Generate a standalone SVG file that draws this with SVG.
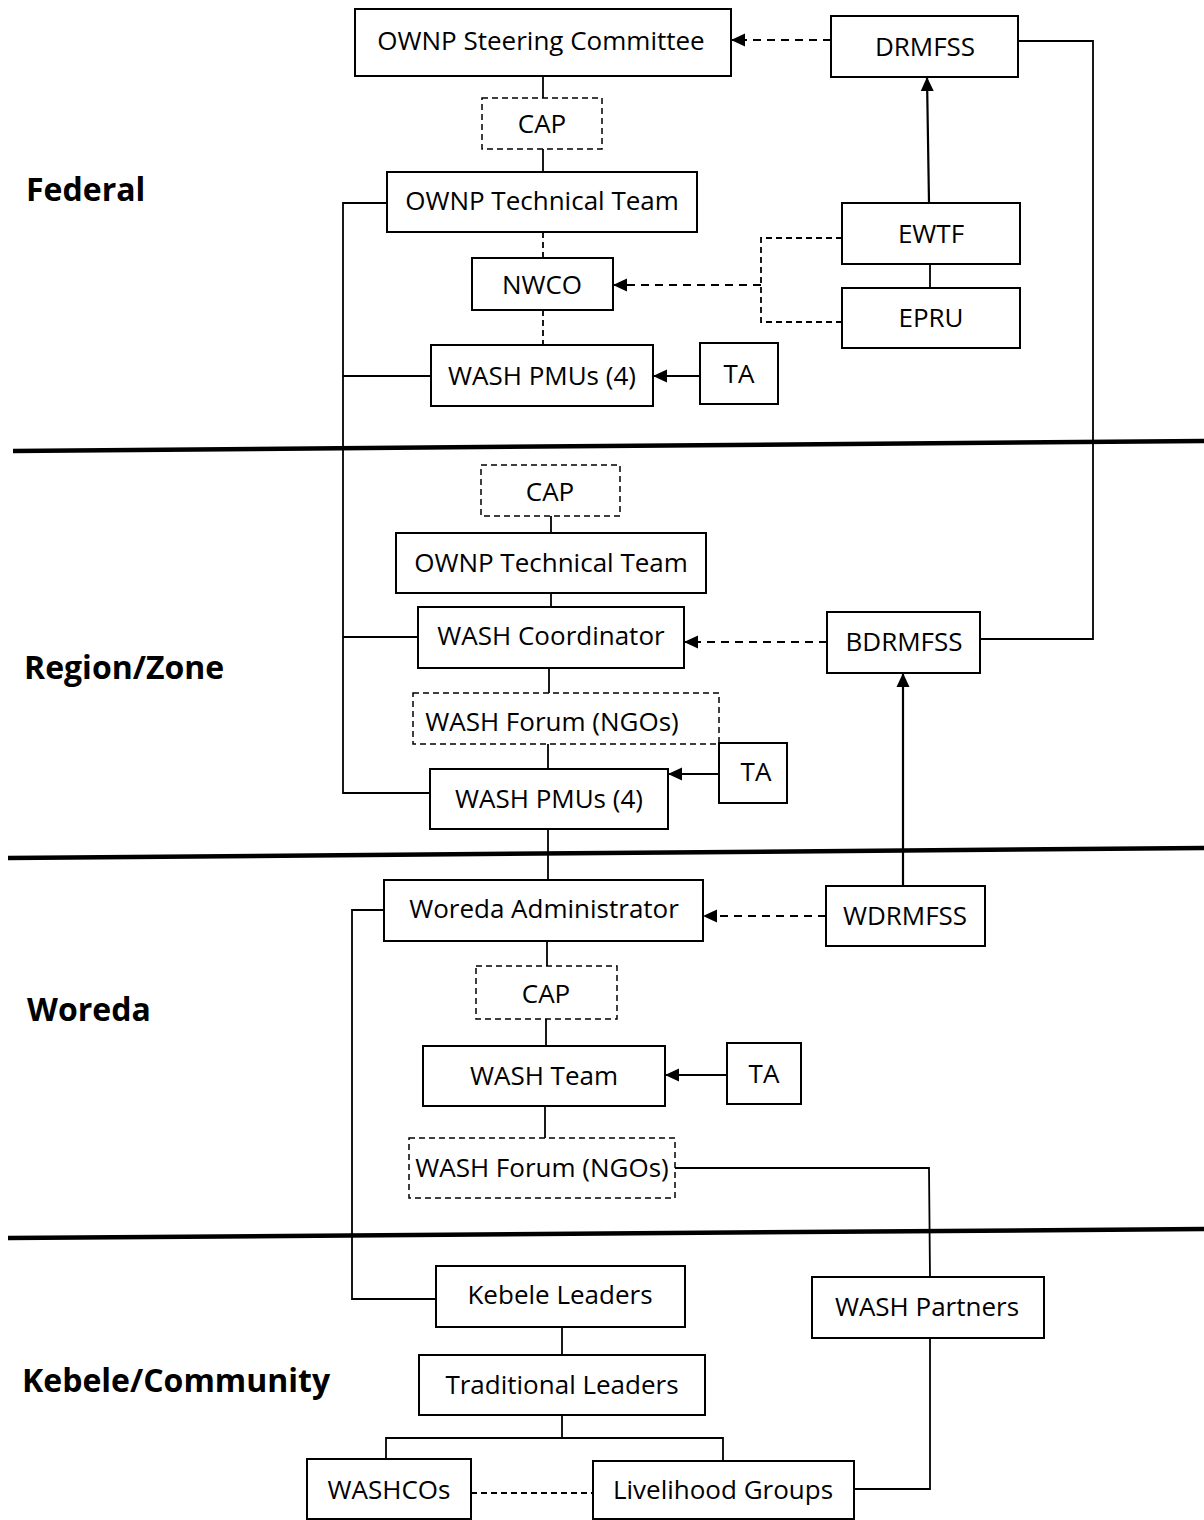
<svg xmlns="http://www.w3.org/2000/svg" width="1204" height="1520" viewBox="0 0 1204 1520">
<style>
rect{fill:#fff;stroke:#000;stroke-width:2}
rect.d{stroke-dasharray:6,4;stroke-width:1.5}
text{font-family:"Open Sans","Liberation Sans",sans-serif;font-size:26px;fill:#000;text-anchor:middle}
text.lvl{font-weight:bold;font-size:32px;text-anchor:start}
.c line,.c polyline{fill:none;stroke:#000;stroke-width:1.8}
.c .dash{stroke-dasharray:6,4}
.c .dash2{stroke-dasharray:8,6;stroke-width:2.2}
.sep line{stroke:#000;stroke-width:4.5}
</style>
<defs>
<marker id="ah" markerWidth="14" markerHeight="14" refX="14" refY="7" orient="auto" markerUnits="userSpaceOnUse"><path d="M0,0.5 L14,7 L0,13.5 z" fill="#000"/></marker>
</defs>
<rect x="0" y="0" width="1204" height="1520" style="fill:#fff;stroke:none"/>
<g class="sep">
<line x1="13" y1="451" x2="1204" y2="441"/>
<line x1="8" y1="858" x2="1204" y2="848"/>
<line x1="8" y1="1238" x2="1204" y2="1229"/>
</g>
<g id="labels">
<text class="lvl" x="26" y="201">Federal</text>
<text class="lvl" x="24" y="679">Region/Zone</text>
<text class="lvl" x="27" y="1021">Woreda</text>
<text class="lvl" x="22" y="1392">Kebele/Community</text>
</g>
<g class="c" id="connectors">
<line x1="543" y1="76" x2="543" y2="98"/>
<line x1="543" y1="149" x2="543" y2="172"/>
<line class="dash" x1="543" y1="232" x2="543" y2="258"/>
<line class="dash" x1="543" y1="310" x2="543" y2="345"/>
<polyline points="387,203 343,203 343,793 430,793"/>
<line x1="343" y1="376" x2="431" y2="376"/>
<line x1="343" y1="637" x2="418" y2="637"/>
<line x1="700" y1="376" x2="653" y2="376" marker-end="url(#ah)" style="stroke-width:2.2"/>
<line class="dash2" x1="831" y1="40" x2="731" y2="40" marker-end="url(#ah)"/>
<line x1="929" y1="203" x2="927" y2="77" marker-end="url(#ah)" style="stroke-width:2.2"/>
<line x1="930" y1="264" x2="930" y2="288"/>
<polyline class="dash" points="842,238 761,238 761,322 842,322"/>
<line class="dash2" x1="761" y1="285" x2="613" y2="285" marker-end="url(#ah)"/>
<polyline points="1018,41 1093,41 1093,639 980,639"/>
<line x1="551" y1="516" x2="551" y2="533"/>
<line x1="551" y1="593" x2="551" y2="607"/>
<line x1="549" y1="668" x2="549" y2="693"/>
<line x1="548" y1="744" x2="548" y2="769"/>
<line x1="719" y1="774" x2="668" y2="774" marker-end="url(#ah)" style="stroke-width:2.2"/>
<line class="dash2" x1="827" y1="642" x2="684" y2="642" marker-end="url(#ah)"/>
<line x1="903" y1="886" x2="903" y2="673" marker-end="url(#ah)" style="stroke-width:2.2"/>
<line x1="548" y1="829" x2="548" y2="880"/>
<line class="dash2" x1="826" y1="916" x2="703" y2="916" marker-end="url(#ah)"/>
<polyline points="384,910 352,910 352,1299 436,1299"/>
<line x1="547" y1="941" x2="547" y2="966"/>
<line x1="546" y1="1019" x2="546" y2="1046"/>
<line x1="727" y1="1075" x2="665" y2="1075" marker-end="url(#ah)" style="stroke-width:2.2"/>
<line x1="545" y1="1106" x2="545" y2="1138"/>
<polyline points="675,1168 929,1168 930,1277"/>
<polyline points="930,1338 930,1489 854,1489"/>
<line x1="562" y1="1327" x2="562" y2="1355"/>
<line x1="562" y1="1415" x2="562" y2="1438"/>
<polyline points="386,1459 386,1438 723,1438 723,1461"/>
<line class="dash" x1="471" y1="1493" x2="593" y2="1493"/>
</g>
<g id="steering"><rect x="355" y="9" width="376" height="67"/><text x="541" y="50">OWNP Steering Committee</text></g>
<g id="cap1"><rect class="d" x="482" y="98" width="120" height="51"/><text x="542" y="133">CAP</text></g>
<g id="ott1"><rect x="387" y="172" width="310" height="60"/><text x="542" y="210">OWNP Technical Team</text></g>
<g id="nwco"><rect x="472" y="258" width="141" height="52"/><text x="542" y="294">NWCO</text></g>
<g id="pmu1"><rect x="431" y="345" width="222" height="61"/><text x="542" y="385">WASH PMUs (4)</text></g>
<g id="ta1"><rect x="700" y="343" width="78" height="61"/><text x="739" y="383">TA</text></g>
<g id="drmfss"><rect x="831" y="16" width="187" height="61"/><text x="925" y="56">DRMFSS</text></g>
<g id="ewtf"><rect x="842" y="203" width="178" height="61"/><text x="931" y="243">EWTF</text></g>
<g id="epru"><rect x="842" y="288" width="178" height="60"/><text x="931" y="327">EPRU</text></g>
<g id="cap2"><rect class="d" x="481" y="465" width="139" height="51"/><text x="550" y="501">CAP</text></g>
<g id="ott2"><rect x="396" y="533" width="310" height="60"/><text x="551" y="572">OWNP Technical Team</text></g>
<g id="coord"><rect x="418" y="607" width="266" height="61"/><text x="551" y="645">WASH Coordinator</text></g>
<g id="forum2"><rect class="d" x="413" y="693" width="306" height="51"/><text x="552" y="731">WASH Forum (NGOs)</text></g>
<g id="pmu2"><rect x="430" y="769" width="238" height="60"/><text x="549" y="808">WASH PMUs (4)</text></g>
<g id="ta2"><rect x="719" y="743" width="68" height="60"/><text x="756" y="781">TA</text></g>
<g id="bdrmfss"><rect x="827" y="612" width="153" height="61"/><text x="904" y="651">BDRMFSS</text></g>
<g id="woreda"><rect x="384" y="880" width="319" height="61"/><text x="544" y="918">Woreda Administrator</text></g>
<g id="wdrmfss"><rect x="826" y="886" width="159" height="60"/><text x="905" y="925">WDRMFSS</text></g>
<g id="cap3"><rect class="d" x="476" y="966" width="141" height="53"/><text x="546" y="1003">CAP</text></g>
<g id="washteam"><rect x="423" y="1046" width="242" height="60"/><text x="544" y="1085">WASH Team</text></g>
<g id="ta3"><rect x="727" y="1043" width="74" height="61"/><text x="764" y="1083">TA</text></g>
<g id="forum3"><rect class="d" x="409" y="1138" width="266" height="60"/><text x="542" y="1177">WASH Forum (NGOs)</text></g>
<g id="kebele"><rect x="436" y="1266" width="249" height="61"/><text x="560" y="1304">Kebele Leaders</text></g>
<g id="trad"><rect x="419" y="1355" width="286" height="60"/><text x="562" y="1394">Traditional Leaders</text></g>
<g id="partners"><rect x="812" y="1277" width="232" height="61"/><text x="927" y="1316">WASH Partners</text></g>
<g id="washcos"><rect x="307" y="1459" width="164" height="60"/><text x="389" y="1499">WASHCOs</text></g>
<g id="livelihood"><rect x="593" y="1461" width="261" height="58"/><text x="723" y="1499">Livelihood Groups</text></g>
</svg>
